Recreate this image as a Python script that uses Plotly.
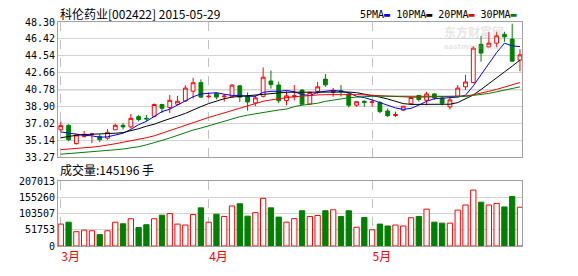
import plotly.graph_objects as go

# ---------------- data ----------------
month_labels = ["3月", "4月", "5月"]
month_start_idx = [0, 19, 40]

opens = [36.33, 36.83, 34.80, 35.58, 35.85, 35.60, 35.40, 36.33, 36.83, 36.65,
         37.79, 37.61, 37.83, 39.14, 38.79, 39.17, 39.53, 40.62, 41.57, 40.00,
         40.36, 40.00, 40.00, 41.21, 40.05, 39.31, 40.05, 41.75, 41.30, 39.58,
         40.00, 40.74, 39.19, 40.60, 41.96, 40.49, 40.67, 40.30, 39.06, 39.50,
         39.38, 39.35, 38.42, 37.92, 38.52, 39.22, 40.14, 39.60, 40.31, 39.86,
         38.88, 40.05, 41.10, 41.57, 45.82, 45.53, 45.95, 46.93, 46.40, 44.07]
highs = [37.26, 36.94, 35.80, 36.19, 35.95, 35.83, 36.40, 37.00, 37.08, 38.08,
         37.97, 37.97, 39.25, 39.20, 40.20, 40.10, 41.28, 42.10, 41.93, 40.50,
         40.50, 40.31, 41.40, 41.30, 40.49, 40.13, 43.25, 42.91, 41.70, 40.60,
         41.30, 40.85, 40.55, 41.66, 42.53, 40.98, 41.30, 40.49, 39.50, 39.60,
         39.67, 39.53, 38.70, 38.35, 38.96, 40.00, 40.20, 40.55, 40.40, 39.95,
         39.96, 41.30, 42.43, 45.60, 46.75, 47.18, 47.22, 47.22, 48.11, 45.28]
lows = [36.12, 35.05, 34.69, 35.48, 34.85, 34.98, 35.23, 36.30, 36.37, 36.47,
        37.26, 37.26, 37.72, 38.18, 38.18, 39.06, 39.42, 39.80, 39.85, 39.88,
        39.71, 39.45, 39.96, 39.42, 38.45, 38.95, 39.92, 40.90, 39.28, 39.06,
        39.60, 39.10, 39.10, 40.31, 41.10, 40.00, 40.03, 38.80, 38.90, 38.88,
        38.88, 38.17, 37.74, 37.74, 38.40, 39.15, 39.45, 39.06, 39.65, 39.05,
        38.60, 39.90, 40.76, 41.50, 43.89, 45.50, 45.50, 46.10, 43.90, 42.82]
closes = [36.79, 35.23, 35.76, 35.83, 35.85, 35.23, 36.05, 36.83, 36.65, 37.60,
          37.47, 37.54, 39.14, 38.72, 39.61, 39.50, 40.96, 41.55, 39.96, 40.05,
          39.96, 40.07, 41.29, 39.96, 39.42, 39.88, 42.17, 41.35, 39.55, 40.10,
          40.10, 39.17, 40.49, 41.10, 41.32, 40.62, 40.60, 39.06, 39.45, 39.38,
          39.42, 38.35, 37.90, 38.02, 38.95, 39.92, 39.69, 40.31, 39.87, 39.28,
          39.65, 40.96, 41.64, 45.40, 44.85, 45.95, 46.76, 46.65, 43.95, 44.65]
volumes = [70000, 76000, 45700, 50700, 48700, 36500, 48700, 76000, 71000, 87000,
           58900, 68000, 87000, 98400, 103500, 70000, 67000, 100500, 121800, 76000,
           101500, 94400, 127900, 135000, 95400, 106500, 152200, 121800, 92300, 76000,
           87300, 112600, 94400, 97400, 112600, 115700, 94400, 112600, 59900, 91300,
           51800, 70000, 63900, 67000, 63900, 90300, 94400, 117700, 76100, 73000,
           73000, 114700, 130900, 178600, 140000, 130900, 136000, 124800, 158300, 123800]

ma5 = [36.09, 35.95, 35.84, 35.73, 35.66, 35.50, 35.55, 35.73, 35.95, 36.38,
       36.90, 37.27, 37.81, 38.35, 38.62, 39.06, 39.50, 40.00, 40.31, 40.36,
       40.45, 40.28, 40.15, 40.15, 40.05, 40.05, 40.49, 40.60, 40.60, 40.70,
       40.55, 40.25, 40.13, 40.49, 40.63, 40.72, 40.60, 40.45, 40.05, 39.90,
       39.65, 39.35, 39.00, 38.76, 38.60, 38.71, 39.07, 39.49, 39.78, 39.85,
       39.85, 39.96, 40.17, 41.20, 42.45, 43.70, 44.90, 45.95, 45.65, 45.57]
ma10 = [35.45, 35.60, 35.72, 35.80, 35.82, 35.85, 35.90, 35.95, 36.02, 36.20,
        36.45, 36.73, 36.95, 37.27, 37.60, 37.85, 38.15, 38.55, 38.90, 39.24,
        39.55, 39.78, 39.96, 40.05, 40.13, 40.22, 40.30, 40.36, 40.42, 40.50,
        40.50, 40.48, 40.48, 40.52, 40.55, 40.55, 40.55, 40.52, 40.45, 40.30,
        40.13, 39.96, 39.75, 39.50, 39.24, 39.15, 39.14, 39.14, 39.14, 39.14,
        39.17, 39.35, 39.75, 40.20, 40.80, 41.48, 42.15, 42.75, 43.40, 44.07]
ma20 = [34.13, 34.18, 34.24, 34.30, 34.40, 34.50, 34.62, 34.78, 34.95, 35.10,
        35.28, 35.45, 35.66, 35.95, 36.30, 36.60, 36.85, 37.10, 37.45, 37.70,
        37.95, 38.20, 38.45, 38.75, 39.00, 39.25, 39.50, 39.65, 39.80, 39.90,
        40.00, 40.08, 40.15, 40.20, 40.23, 40.25, 40.26, 40.25, 40.23, 40.20,
        40.15, 40.10, 40.05, 40.00, 39.96, 39.95, 39.95, 39.96, 39.97, 39.97,
        39.98, 40.02, 40.08, 40.22, 40.38, 40.60, 40.82, 41.05, 41.30, 41.58]
ma30 = [33.62, 33.68, 33.73, 33.79, 33.86, 33.91, 34.02, 34.11, 34.20, 34.30,
        34.45, 34.66, 34.88, 35.15, 35.42, 35.72, 36.01, 36.30, 36.52, 36.78,
        37.02, 37.29, 37.54, 37.78, 37.96, 38.12, 38.26, 38.39, 38.53, 38.63,
        38.90, 39.06, 39.17, 39.28, 39.49, 39.65, 39.78, 39.89, 39.96, 40.03,
        40.05, 40.06, 40.06, 40.06, 40.06, 40.05, 40.04, 40.03, 40.02, 40.00,
        39.98, 40.00, 40.05, 40.15, 40.25, 40.37, 40.55, 40.75, 40.92, 41.10]

price_ticks = [33.27, 35.14, 37.02, 38.90, 40.78, 42.66, 44.54, 46.42, 48.30]
price_tick_text = ["33.27", "35.14", "37.02", "38.90", "40.78", "42.66", "44.54", "46.42", "48.30"]
vol_ticks = [0, 51753, 103507, 155260, 207013]
vol_tick_text = ["0", "51753", "103507", "155260", "207013"]

title_text = "科伦药业[002422] 2015-05-29"
vol_title = "成交量:145196 手"
ma_names = ["5PMA", "10PMA", "20PMA", "30PMA"]

# ---------------- styles ----------------
RED = "#ff0000"
GREEN = "#008000"
MA_COLORS = ["#0000ff", "#000000", "#ff0000", "#008000"]
FRAME = "#a0a0a0"
GRID = "#d4d4d4"
MONO = "DejaVu Sans Mono"
CJK = "Noto Sans CJK SC"

days = list(range(len(closes)))
up = [i for i in days if closes[i] >= opens[i]]
dn = [i for i in days if closes[i] < opens[i]]

fig = go.Figure()


def candle(idx, line_color, fill_color):
    style = dict(line=dict(color=line_color, width=1), fillcolor=fill_color)
    return go.Candlestick(
        x=[days[i] for i in idx],
        open=[opens[i] for i in idx],
        high=[highs[i] for i in idx],
        low=[lows[i] for i in idx],
        close=[closes[i] for i in idx],
        increasing=style, decreasing=style,
        whiskerwidth=0, xaxis="x", yaxis="y", hoverinfo="skip",
    )


fig.add_trace(candle(up, RED, "#ffffff"))
fig.add_trace(candle(dn, GREEN, GREEN))

for vals, col, name in zip([ma5, ma10, ma20, ma30], MA_COLORS, ma_names):
    fig.add_trace(go.Scatter(x=days, y=vals, mode="lines", name=name,
                             line=dict(color=col, width=1), xaxis="x", yaxis="y",
                             hoverinfo="skip"))

vol_fill = ["#ffffff" if closes[i] >= opens[i] else GREEN for i in days]
vol_line = [RED if closes[i] >= opens[i] else GREEN for i in days]
fig.add_trace(go.Bar(x=days, y=volumes, width=0.68,
                     marker=dict(color=vol_fill, line=dict(color=vol_line, width=1)),
                     xaxis="x2", yaxis="y2", hoverinfo="skip"))

# ---------------- layout ----------------
L, R, T, B = 58, 56, 22, 19
H, W = 276, 578
ph = H - T - B
main_bottom = (H - B - 164) / ph
vol_top = (H - B - 189) / ph

xrange_ = [-0.36, 59.26]
axis_common = dict(showline=True, mirror=True, linecolor=FRAME, linewidth=1,
                   zeroline=False, ticks="")

fig.update_layout(
    width=W, height=H,
    margin=dict(l=L, r=R, t=T, b=B, pad=0),
    paper_bgcolor="white", plot_bgcolor="white",
    showlegend=False,
    xaxis=dict(domain=[0, 1], anchor="y", range=xrange_, tickvals=month_start_idx,
               showticklabels=False, showgrid=True, gridcolor="#c0c0c0",
               griddash="dash", gridwidth=1, rangeslider=dict(visible=False),
               **axis_common),
    yaxis=dict(domain=[main_bottom, 1], anchor="x", range=[price_ticks[0], price_ticks[-1]],
               tickvals=price_ticks, ticktext=price_tick_text,
               tickfont=dict(family=MONO, size=10, color="#000000"),
               showgrid=True, gridcolor=GRID, gridwidth=1, **axis_common),
    xaxis2=dict(domain=[0, 1], anchor="y2", range=xrange_, tickvals=month_start_idx,
                ticktext=month_labels, ticklabelposition="outside right",
                tickfont=dict(family=CJK, size=12, color=RED),
                showgrid=True, gridcolor="#c0c0c0", griddash="dash", gridwidth=1,
                **axis_common),
    yaxis2=dict(domain=[0, vol_top], anchor="x2", range=[vol_ticks[0], vol_ticks[-1]],
                tickvals=vol_ticks, ticktext=vol_tick_text,
                tickfont=dict(family=MONO, size=10, color="#000000"),
                showgrid=True, gridcolor=GRID, gridwidth=1, **axis_common),
)

# darker middle reference line in the price panel
fig.add_shape(type="line", xref="x domain", yref="y", x0=0, x1=1,
              y0=price_ticks[4], y1=price_ticks[4],
              line=dict(color=FRAME, width=1), layer="below")

# title
fig.add_annotation(text=title_text, xref="paper", yref="paper", x=0, y=(H - B - 13) / ph,
                   xanchor="left", yanchor="middle", showarrow=False,
                   font=dict(family=CJK, size=12, color="#000000"))
# volume title
fig.add_annotation(text=vol_title, xref="paper", yref="paper", x=0, y=(H - B - 177) / ph,
                   xanchor="left", yanchor="middle", showarrow=False,
                   font=dict(family=CJK, size=12, color="#000000"))

# MA legend
legend_parts = []
for name, col in zip(ma_names, MA_COLORS):
    legend_parts.append(f"{name}<span style='color:{col}'>▬</span>")
fig.add_annotation(text=" ".join(legend_parts), xref="paper", yref="paper",
                   x=(519 - L) / (W - L - R), y=(H - B - 14) / ph,
                   xanchor="right", yanchor="middle", showarrow=False,
                   font=dict(family=MONO, size=10, color="#000000"))

# watermark
fig.add_annotation(text="<b>东方财富网</b>", xref="paper", yref="paper",
                   x=(442 - L) / (W - L - R), y=(H - B - 32) / ph,
                   xanchor="left", yanchor="middle", showarrow=False,
                   font=dict(family=CJK, size=12, color="rgba(180,180,180,0.35)"))
fig.add_annotation(text="<b>eastmoney.com</b>", xref="paper", yref="paper",
                   x=(442 - L) / (W - L - R), y=(H - B - 48) / ph,
                   xanchor="left", yanchor="middle", showarrow=False,
                   font=dict(family="DejaVu Sans", size=7, color="rgba(180,180,180,0.35)"))

fig.write_html("out.html")
